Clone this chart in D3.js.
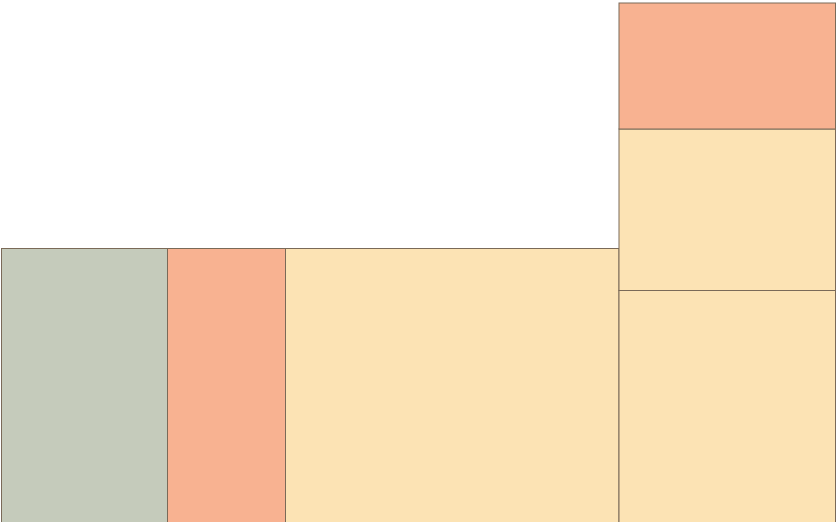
<!DOCTYPE html>
<meta charset="utf-8">
<html>
<head>
    <script src="https://d3js.org/d3.v7.min.js"></script>
    <style>
        body { margin: 0; background: #fff; }
    </style>
</head>
<body>
    <div id="chart"></div>
    <script>
        // column widths and stacked segment values (bottom to top)
        var columns = ["A", "B", "C", "D"];
        var widths = [166, 118, 333.5, 216.5];
        var segValues = [[275.5], [275.5], [275.5], [233.5, 161.5, 126]];
        var segColors = [["#c5cbbb"], ["#f8b291"], ["#fce3b4"], ["#fce3b4", "#fce3b4", "#f8b291"]];

        var W = 837, H = 522;
        // bottom edge sits just below the window, so no bottom stroke shows
        var margin = { top: 3, right: 1.5, bottom: -2, left: 1.5 };

        var svg = d3.select("#chart")
            .append("svg")
            .attr("width", W)
            .attr("height", H);

        var x = d3.scaleLinear()
            .domain([0, d3.sum(widths)])
            .range([margin.left, W - margin.right]);

        var y = d3.scaleLinear()
            .domain([0, d3.max(segValues, function (s) { return d3.sum(s); })])
            .range([H - margin.bottom, margin.top]);

        var rects = [];
        var cx = 0;
        columns.forEach(function (c, i) {
            var base = 0;
            segValues[i].forEach(function (v, j) {
                rects.push({ x0: cx, x1: cx + widths[i], y0: base, y1: base + v, color: segColors[i][j] });
                base += v;
            });
            cx += widths[i];
        });

        svg.selectAll("rect")
            .data(rects)
            .enter()
            .append("rect")
            .attr("x", function (d) { return x(d.x0); })
            .attr("y", function (d) { return y(d.y1); })
            .attr("width", function (d) { return x(d.x1) - x(d.x0); })
            .attr("height", function (d) { return y(d.y0) - y(d.y1); })
            .attr("fill", function (d) { return d.color; })
            .attr("stroke", "#7a6a58")
            .attr("stroke-width", 1);
    </script>
</body>
</html>
